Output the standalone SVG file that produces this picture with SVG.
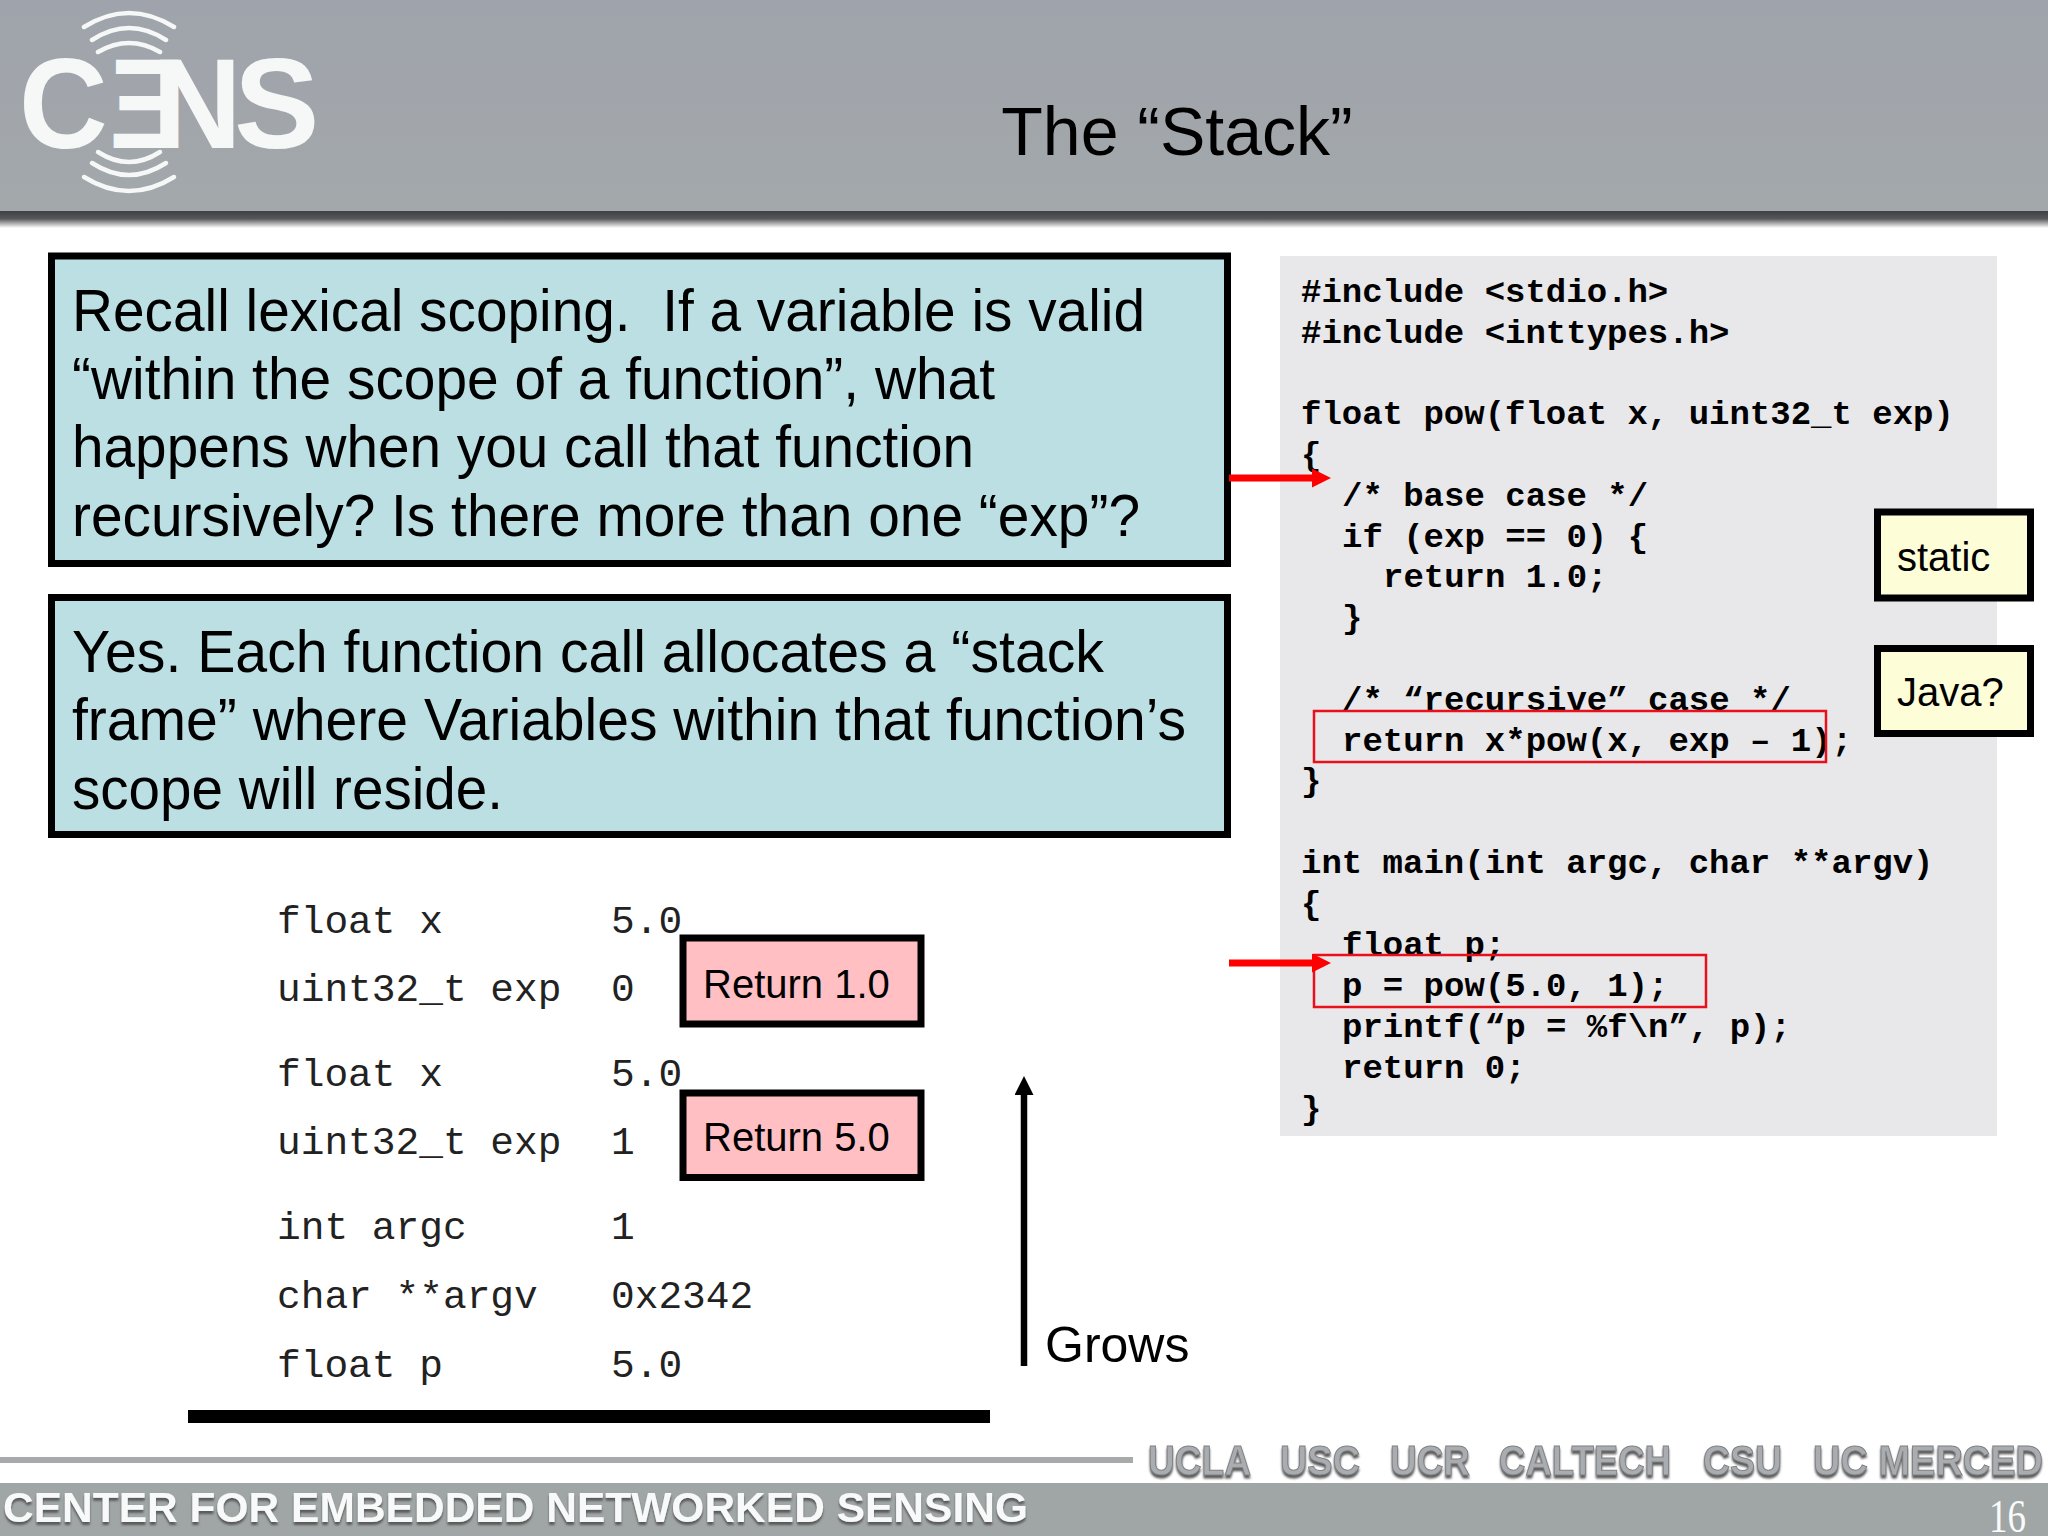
<svg xmlns="http://www.w3.org/2000/svg" width="2048" height="1536" viewBox="0 0 2048 1536">
<defs>
<linearGradient id="hdr" x1="0" y1="0" x2="0" y2="1"><stop offset="0" stop-color="#9fa3ab"/><stop offset="1" stop-color="#a3a8ab"/></linearGradient>
<linearGradient id="shadow" x1="0" y1="0" x2="0" y2="1"><stop offset="0" stop-color="#3e4043"/><stop offset="0.45" stop-color="#55575a"/><stop offset="1" stop-color="#ffffff"/></linearGradient>
<filter id="ds" x="-5%" y="-30%" width="110%" height="170%"><feDropShadow dx="0" dy="3" stdDeviation="1.2" flood-color="#5a5a5a"/></filter>
<marker id="ra" markerUnits="userSpaceOnUse" markerWidth="20" markerHeight="20" refX="3" refY="9.5" orient="auto"><path d="M0 0L19 9.5L0 19z" fill="#ff0000"/></marker>
<marker id="ba" markerUnits="userSpaceOnUse" markerWidth="20" markerHeight="20" refX="3" refY="9.5" orient="auto"><path d="M0 0L19 9.5L0 19z" fill="#000"/></marker>
</defs>
<style>
.s{font-family:"Liberation Sans",Arial,sans-serif;fill:#000}
.b{font-size:60px;white-space:pre}
.m{font-family:"Liberation Mono","Courier New",monospace;font-size:34px;font-weight:bold;fill:#000}
.t{font-family:"Liberation Mono","Courier New",monospace;font-size:39.5px;fill:#222}
.box{fill:#bbdfe3;stroke:#000;stroke-width:7}
.y{fill:#fdfdd8;stroke:#000;stroke-width:7}
.p{fill:#ffbfc3;stroke:#000;stroke-width:7}
.r{fill:none;stroke:#e8101a;stroke-width:2.5}
.l{font-size:40px}
.f{font-family:"Liberation Sans",sans-serif;font-weight:bold;font-size:42px}
.u{fill:#a9adb1;stroke:#808080;stroke-width:1;filter:url(#ds)}
.lg{font-family:"Liberation Sans",sans-serif;font-weight:bold;font-size:128px;fill:#f6f7f7}
</style>
<rect width="2048" height="1536" fill="#fff"/>
<rect width="2048" height="211" fill="url(#hdr)"/>
<rect y="211" width="2048" height="17" fill="url(#shadow)"/>
<g id="logo">
<g fill="none" stroke="#f6f7f7" stroke-width="4.5" stroke-linecap="round">
<path d="M84 27Q129 -1 174 27M92 40Q129 16 166 40M98 52Q129 34 160 52"/>
<path d="M98 152Q129 172 160 152M92 163Q129 187 166 163M84 177Q129 205 174 177"/>
</g>
<text class="lg" transform="translate(19 148) scale(.96 1)">C</text>
<text class="lg" transform="translate(186 148) scale(-.9 1)">E</text>
<text class="lg" transform="translate(152 148) scale(.97 1)">N</text>
<text class="lg" transform="translate(234 148)">S</text>
</g>
<text x="1177" y="155" class="s" text-anchor="middle" font-size="68">The “Stack”</text>
<g id="q1"><rect class="box" x="51.5" y="256" width="1176" height="307.5"/>
<text class="s b" x="72" y="331" textLength="1073" lengthAdjust="spacingAndGlyphs">Recall lexical scoping.  If a variable is valid</text>
<text class="s b" x="72" y="399" textLength="923" lengthAdjust="spacingAndGlyphs">“within the scope of a function”, what</text>
<text class="s b" x="72" y="467" textLength="902" lengthAdjust="spacingAndGlyphs">happens when you call that function</text>
<text class="s b" x="72" y="536" textLength="1068" lengthAdjust="spacingAndGlyphs">recursively? Is there more than one “exp”?</text></g>
<g id="q2"><rect class="box" x="51.5" y="597.5" width="1176" height="237"/>
<text class="s b" x="72" y="672" textLength="1032" lengthAdjust="spacingAndGlyphs">Yes. Each function call allocates a “stack</text>
<text class="s b" x="72" y="740" textLength="1114" lengthAdjust="spacingAndGlyphs">frame” where Variables within that function’s</text>
<text class="s b" x="72" y="809" textLength="431" lengthAdjust="spacingAndGlyphs">scope will reside.</text></g>
<g id="code"><rect x="1280" y="256" width="717" height="880" fill="#e8e7ea"/>
<text class="m" x="1301" y="302">#include &lt;stdio.h&gt;</text>
<text class="m" x="1301" y="343">#include &lt;inttypes.h&gt;</text>
<text class="m" x="1301" y="424">float pow(float x, uint32_t exp)</text>
<text class="m" x="1301" y="465">{</text>
<text class="m" x="1342" y="506">/* base case */</text>
<text class="m" x="1342" y="547">if (exp == 0) {</text>
<text class="m" x="1383" y="587">return 1.0;</text>
<text class="m" x="1342" y="628">}</text>
<text class="m" x="1342" y="710">/* “recursive” case */</text>
<text class="m" x="1342" y="751">return x*pow(x, exp – 1);</text>
<text class="m" x="1301" y="791">}</text>
<text class="m" x="1301" y="873">int main(int argc, char **argv)</text>
<text class="m" x="1301" y="914">{</text>
<text class="m" x="1342" y="955">float p;</text>
<text class="m" x="1342" y="996">p = pow(5.0, 1);</text>
<text class="m" x="1342" y="1037">printf(“p = %f\n”, p);</text>
<text class="m" x="1342" y="1078">return 0;</text>
<text class="m" x="1301" y="1119">}</text></g>
<g id="hl"><rect class="r" x="1314" y="711" width="512" height="51"/><rect class="r" x="1314" y="955" width="392" height="52"/></g>
<g id="static"><rect class="y" x="1877.5" y="512" width="153" height="86"/><text class="s l" x="1897" y="571">static</text></g>
<g id="java"><rect class="y" x="1877.5" y="648.5" width="153" height="85"/><text class="s l" x="1897" y="706">Java?</text></g>
<g id="connectors">
<line x1="1229" y1="478" x2="1315" y2="478" stroke="#f00" stroke-width="7" marker-end="url(#ra)"/>
<line x1="1229" y1="963" x2="1315" y2="963" stroke="#f00" stroke-width="7" marker-end="url(#ra)"/>
<line x1="1024" y1="1366" x2="1024" y2="1092" stroke="#000" stroke-width="6.5" marker-end="url(#ba)"/>
<line x1="188" y1="1416.5" x2="990" y2="1416.5" stroke="#000" stroke-width="13"/>
</g>
<g id="stack">
<text class="t" x="277" y="933">float x</text><text class="t" x="611" y="933">5.0</text>
<text class="t" x="277" y="1001">uint32_t exp</text><text class="t" x="611" y="1001">0</text>
<text class="t" x="277" y="1086">float x</text><text class="t" x="611" y="1086">5.0</text>
<text class="t" x="277" y="1154">uint32_t exp</text><text class="t" x="611" y="1154">1</text>
<text class="t" x="277" y="1239">int argc</text><text class="t" x="611" y="1239">1</text>
<text class="t" x="277" y="1308">char **argv</text><text class="t" x="611" y="1308">0x2342</text>
<text class="t" x="277" y="1377">float p</text><text class="t" x="611" y="1377">5.0</text>
</g>
<g id="ret1"><rect class="p" x="683" y="938" width="238" height="86"/><text class="s l" x="703" y="998">Return 1.0</text></g>
<g id="ret2"><rect class="p" x="683" y="1093" width="238" height="84.5"/><text class="s l" x="703" y="1151">Return 5.0</text></g>
<text class="s" x="1045" y="1362" font-size="50">Grows</text>
<g id="footer">
<rect y="1457" width="1133" height="6" fill="#a8a9ab"/>
<rect y="1483" width="2048" height="53" fill="#a0a6a6"/>
<text class="f" x="3" y="1522" fill="#f8f9f9" filter="url(#ds)" textLength="1025" lengthAdjust="spacingAndGlyphs">CENTER FOR EMBEDDED NETWORKED SENSING</text>
<text class="f u" x="1148" y="1475" textLength="103" lengthAdjust="spacingAndGlyphs">UCLA</text>
<text class="f u" x="1280" y="1475" textLength="80" lengthAdjust="spacingAndGlyphs">USC</text>
<text class="f u" x="1390" y="1475" textLength="80" lengthAdjust="spacingAndGlyphs">UCR</text>
<text class="f u" x="1499" y="1475" textLength="172" lengthAdjust="spacingAndGlyphs">CALTECH</text>
<text class="f u" x="1703" y="1475" textLength="79" lengthAdjust="spacingAndGlyphs">CSU</text>
<text class="f u" x="1813" y="1475" textLength="230" lengthAdjust="spacingAndGlyphs">UC MERCED</text>
<text x="1989" y="1532" font-family="Liberation Serif,serif" font-size="47" fill="#fafafa" textLength="37" lengthAdjust="spacingAndGlyphs">16</text>
</g>
</svg>
